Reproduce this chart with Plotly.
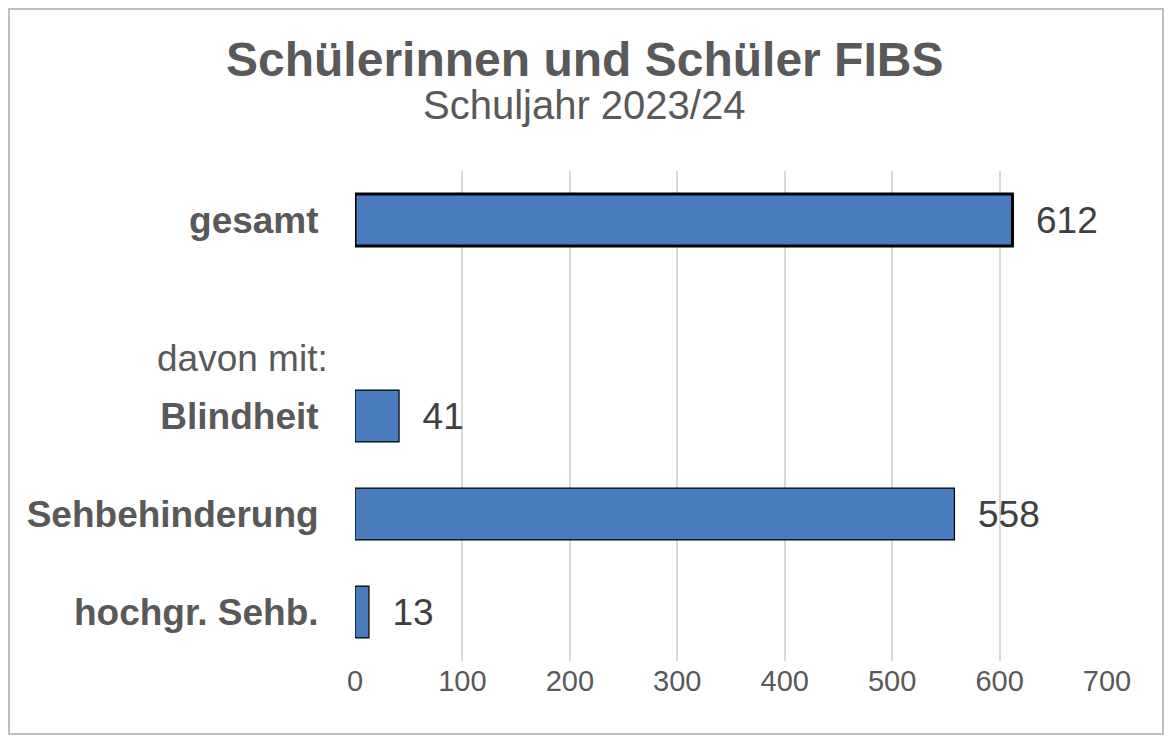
import plotly.graph_objects as go

categories = ["gesamt", "", "Blindheit", "Sehbehinderung", "hochgr. Sehb."]
values = [612, None, 41, 558, 13]
tick_labels = ["<b>gesamt</b>", "", "<b>Blindheit</b>", "<b>Sehbehinderung</b>", "<b>hochgr. Sehb.</b>"]
line_widths = [3, 0, 1.2, 1.2, 1.2]

W, H = 1156, 727
L, T = 347, 163
R, B = W - 1099, H - 653
pw, ph = W - L - R, H - T - B

def px_x(x): return (x - L) / pw
def px_y(y): return (T + ph - y) / ph

fig = go.Figure(go.Bar(
    y=categories, x=values, orientation="h", width=0.53,
    marker=dict(color="#4a7bbd", line=dict(color="#000000", width=line_widths)),
    text=["  " + str(v) if v is not None else "" for v in values], textposition="outside",
    textfont=dict(size=37, color="#404040", family="Liberation Sans"),
    cliponaxis=False,
))
fig.update_layout(
    width=W, height=H, margin=dict(l=L, r=R, t=T, b=B),
    plot_bgcolor="white", paper_bgcolor="white", showlegend=False,
    font=dict(family="Liberation Sans", color="#595959"),
    xaxis=dict(range=[0, 700], dtick=100, showgrid=True, gridcolor="#d9d9d9", gridwidth=1.5,
               zeroline=False, showline=False, tickfont=dict(size=29, color="#595959"), ticklen=0),
    yaxis=dict(categoryorder="array", categoryarray=categories, autorange="reversed",
               tickvals=categories, ticktext=tick_labels, ticks="outside", ticklen=28, tickcolor="rgba(0,0,0,0)",
               tickfont=dict(size=37, color="#595959"), showline=False),
    annotations=[
        dict(text="davon mit:", xref="paper", yref="paper", x=px_x(322), xanchor="right",
             y=px_y(350), yanchor="middle", showarrow=False, font=dict(size=37, color="#595959")),
        dict(text="<b>Schülerinnen und Schüler FIBS</b>", xref="paper", yref="paper", x=px_x(576),
             xanchor="center", y=px_y(52), yanchor="middle", showarrow=False,
             font=dict(size=48, color="#595959")),
        dict(text="Schuljahr 2023/24", xref="paper", yref="paper", x=px_x(576),
             xanchor="center", y=px_y(97), yanchor="middle", showarrow=False,
             font=dict(size=40, color="#595959")),
    ],
    shapes=[dict(type="rect", xref="paper", yref="paper",
                 x0=px_x(1), x1=px_x(W - 1), y0=px_y(H - 1), y1=px_y(1),
                 line=dict(color="#bfbfbf", width=2))],
)
fig.write_html("out.html")
